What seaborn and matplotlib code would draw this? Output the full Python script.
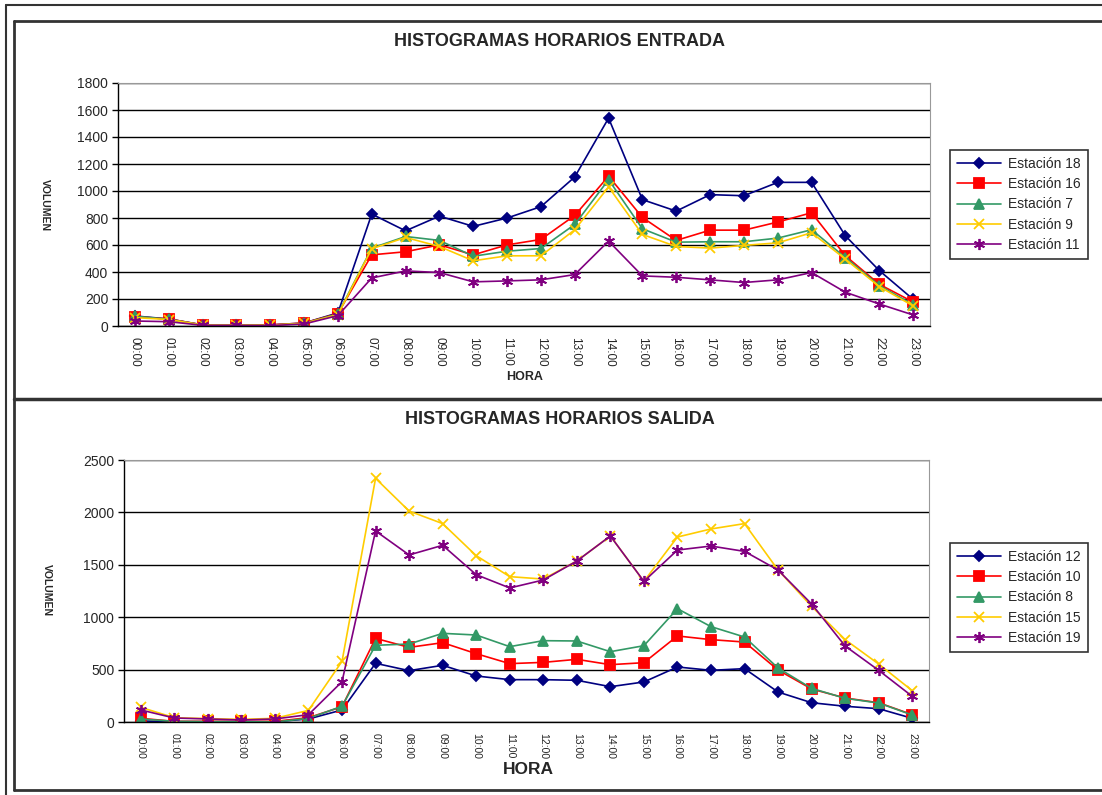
import pandas as pd
import matplotlib
matplotlib.use("Agg")
import matplotlib.pyplot as plt
from matplotlib.lines import Line2D
import seaborn as sns

# hourly categories
horas = ["%02d:00" % h for h in range(24)]

# entrada stations
est18 = [74, 52, 8, 8, 8, 22, 97, 829, 705, 814, 738, 800, 884, 1104, 1540, 936, 851, 973, 965, 1064, 1064, 668, 411, 198]
est16 = [69, 52, 8, 8, 8, 22, 92, 527, 550, 601, 527, 601, 641, 819, 1110, 804, 634, 710, 710, 770, 839, 520, 309, 178]
est7 = [72, 50, 7, 7, 5, 20, 89, 577, 663, 634, 517, 554, 574, 752, 1084, 720, 621, 624, 624, 651, 713, 507, 300, 158]
est9 = [62, 48, 7, 7, 5, 20, 84, 572, 656, 589, 483, 520, 520, 713, 1030, 678, 589, 577, 597, 616, 691, 495, 292, 149]
est11 = [37, 32, 5, 5, 3, 15, 77, 356, 408, 396, 327, 334, 342, 381, 629, 371, 361, 342, 322, 342, 396, 250, 163, 82]

# salida stations
est12 = [10, 3, 3, 3, 3, 29, 115, 560, 490, 541, 439, 404, 404, 398, 337, 382, 525, 493, 509, 286, 184, 150, 127, 35]
est10 = [35, 6, 6, 6, 6, 41, 146, 798, 712, 757, 652, 557, 569, 598, 547, 566, 821, 786, 763, 496, 315, 229, 184, 70]
est8 = [29, 6, 3, 3, 0, 35, 150, 732, 744, 846, 830, 719, 776, 773, 671, 728, 1081, 910, 811, 515, 321, 226, 181, 67]
est15 = [140, 41, 32, 25, 35, 111, 579, 2325, 2013, 1893, 1587, 1387, 1364, 1536, 1775, 1342, 1765, 1842, 1893, 1450, 1104, 786, 553, 299]
est19 = [115, 38, 29, 19, 29, 70, 385, 1823, 1594, 1686, 1406, 1279, 1355, 1536, 1775, 1342, 1641, 1679, 1628, 1450, 1126, 725, 493, 245]

entrada = {"Estación 18": est18, "Estación 16": est16, "Estación 7": est7,
           "Estación 9": est9, "Estación 11": est11}
salida = {"Estación 12": est12, "Estación 10": est10, "Estación 8": est8,
          "Estación 15": est15, "Estación 19": est19}

colores = ["#000080", "#FF0000", "#339966", "#FFCC00", "#800080"]
marcas = ["D", "s", "^", "x", (6, 2, 0)]
tamanos = [5, 6.5, 7, 7, 8]

sns.set_style("white")
plt.rcParams["font.family"] = ["Liberation Sans", "DejaVu Sans"]

fig = plt.figure(figsize=(11.02, 7.95), dpi=100)


def dibujar(ax, series, ymax, paso, tam_ticks, leg_y):
    pos = list(range(len(horas)))
    for (nombre, vals), c, m, s in zip(series.items(), colores, marcas, tamanos):
        df = pd.DataFrame({"pos": pos, "vol": vals})
        sns.lineplot(data=df, x="pos", y="vol", ax=ax, color=c, marker=m,
                     markersize=s, mec=c, mfc=c, mew=1.3, lw=1.2, label=nombre)
    ax.set_xlim(-0.5, len(horas) - 0.5)
    ax.set_ylim(0, ymax)
    ax.set_yticks(range(0, ymax + 1, paso))
    ax.set_xticks(pos)
    ax.set_xticklabels(horas, rotation=-90, fontsize=tam_ticks)
    ax.set_xticks([p - 0.5 for p in pos] + [len(horas) - 0.5], minor=True)
    ax.tick_params(axis="x", which="major", length=0, pad=8)
    ax.tick_params(axis="x", which="minor", length=5, width=1, direction="out", color="black")
    ax.tick_params(axis="y", length=4, width=1, direction="out", color="black",
                   left=True, labelsize=10, pad=3)
    ax.grid(axis="y", color="black", lw=1)
    ax.set_axisbelow(True)
    for lado in ["top", "right"]:
        ax.spines[lado].set_color("#999999")
    for lado in ["left", "bottom"]:
        ax.spines[lado].set_color("black")
        ax.spines[lado].set_linewidth(1)
    ax.set_xlabel("")
    ax.set_ylabel("")
    ax.legend(loc="upper left", bbox_to_anchor=(950 / 1102, leg_y),
              bbox_transform=fig.transFigure, borderaxespad=0, frameon=True,
              fancybox=False, edgecolor="black", fontsize=10, handlelength=3.2,
              labelspacing=0.45, borderpad=0.5, handletextpad=0.5)
    ax.get_legend().get_frame().set_linewidth(1.2)


ax1 = fig.add_axes([118 / 1102, 1 - 326 / 795, 812 / 1102, 243 / 795])
dibujar(ax1, entrada, 1800, 200, 8.5, 1 - 150 / 795)
ax2 = fig.add_axes([124 / 1102, 1 - 722 / 795, 805 / 1102, 262 / 795])
dibujar(ax2, salida, 2500, 500, 7.5, 1 - 543 / 795)

fig.text(560 / 1102, 1 - 42 / 795, "HISTOGRAMAS HORARIOS ENTRADA", ha="center",
         va="center", fontsize=13, fontweight="bold")
fig.text(560 / 1102, 1 - 420 / 795, "HISTOGRAMAS HORARIOS SALIDA", ha="center",
         va="center", fontsize=13, fontweight="bold")
fig.text(525 / 1102, 1 - 377 / 795, "HORA", ha="center", va="center",
         fontsize=9, fontweight="bold")
fig.text(528 / 1102, 1 - 770 / 795, "HORA", ha="center", va="center",
         fontsize=12.5, fontweight="bold")
fig.text(45 / 1102, 1 - 205 / 795, "VOLUMEN", ha="center", va="center",
         rotation=-90, fontsize=7.5, fontweight="bold")
fig.text(47 / 1102, 1 - 590 / 795, "VOLUMEN", ha="center", va="center",
         rotation=-90, fontsize=7.5, fontweight="bold")

# page / chart frames
def linea(x0, y0, x1, y1, lw=1.5):
    fig.add_artist(Line2D([x0 / 1102, x1 / 1102], [1 - y0 / 795, 1 - y1 / 795],
                          color="#333333", lw=lw, transform=fig.transFigure))

linea(6, 5, 1102, 5)
linea(6, 5, 6, 795)
linea(14, 21, 1102, 21, 2)
linea(14, 21, 14, 790, 2)
linea(14, 399, 1102, 399, 2.5)
linea(14, 790, 1102, 790, 2)

fig.savefig("out.png", dpi=100)
